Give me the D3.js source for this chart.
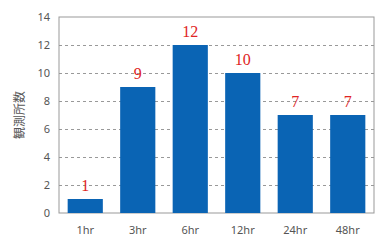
<!DOCTYPE html>
<html>
<head>
<meta charset="utf-8">
<script src="https://d3js.org/d3.v7.min.js"></script>
<style>
  body { margin: 0; background: #fff; }
  .tick text { fill: #555; font: 11px "Noto Sans", sans-serif; }
  .grid line { stroke: #999; stroke-dasharray: 3,3; }
  .grid path { display: none; }
</style>
</head>
<body>
<div id="chart"></div>
<script>
var categories = ["1hr", "3hr", "6hr", "12hr", "24hr", "48hr"];
var counts = [1, 9, 12, 10, 7, 7];
var yTicks = [0, 2, 4, 6, 8, 10, 12, 14];
var yTitle = "観測所数";

var margin = {top: 17, right: 8, bottom: 36, left: 59};
var W = 382, H = 249;
var width = W - margin.left - margin.right;
var height = H - margin.top - margin.bottom;

var svg = d3.select("#chart").append("svg")
    .attr("width", W).attr("height", H);
var g = svg.append("g")
    .attr("transform", "translate(" + margin.left + "," + margin.top + ")");

var x = d3.scaleBand().domain(categories).range([0, width]).paddingInner(0.33).paddingOuter(0.165);
var y = d3.scaleLinear().domain([0, 14]).range([height, 0]);

// dashed gridlines
g.append("g").attr("class", "grid")
    .call(d3.axisLeft(y).tickValues(yTicks.slice(1, -1)).tickSize(-width).tickFormat(""));

// frame
g.append("rect").attr("width", width).attr("height", height)
    .attr("fill", "none").attr("stroke", "#999").attr("stroke-width", 1);

// bars
g.selectAll(".bar").data(counts).enter().append("rect")
    .attr("class", "bar")
    .attr("x", function(d, i) { return x(categories[i]); })
    .attr("width", x.bandwidth())
    .attr("y", function(d) { return y(d); })
    .attr("height", function(d) { return height - y(d); })
    .attr("fill", "#0a64b4");

// value labels
g.selectAll(".label").data(counts).enter().append("text")
    .attr("x", function(d, i) { return x(categories[i]) + x.bandwidth() / 2; })
    .attr("y", function(d) { return y(d) - 8; })
    .attr("text-anchor", "middle")
    .attr("fill", "#e02424")
    .style("font", "16px 'Liberation Serif', serif")
    .text(function(d) { return d; });

// axes
var yAxis = g.append("g")
    .call(d3.axisLeft(y).tickValues(yTicks).tickSize(0).tickPadding(9));
yAxis.select(".domain").remove();

var xAxis = g.append("g")
    .attr("transform", "translate(0," + height + ")")
    .call(d3.axisBottom(x).tickSize(0).tickPadding(13));
xAxis.select(".domain").remove();

// y title
svg.append("text")
    .attr("transform", "translate(24," + (margin.top + height / 2) + ") rotate(-90)")
    .attr("text-anchor", "middle")
    .attr("fill", "#555")
    .style("font", "12px 'Noto Sans CJK JP', sans-serif")
    .text(yTitle);
</script>
</body>
</html>
